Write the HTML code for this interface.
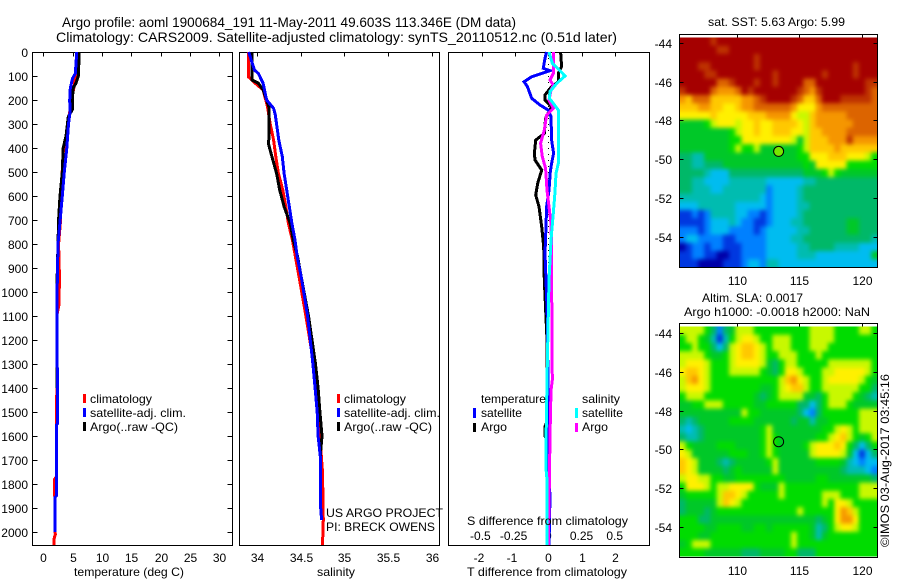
<!DOCTYPE html>
<html>
<head>
<meta charset="utf-8">
<title>Argo profile</title>
<style>
html,body{margin:0;padding:0;background:#fff;}
svg{display:block;}
text{font-family:"Liberation Sans",sans-serif;fill:#000;font-size:12px;}
</style>
</head>
<body>
<svg id="chart" xmlns="http://www.w3.org/2000/svg" width="900" height="580" viewBox="0 0 900 580">
<defs>
<filter id="mapBlur" filterUnits="userSpaceOnUse" x="650" y="0" width="250" height="580" color-interpolation-filters="sRGB"><feGaussianBlur stdDeviation="2"/></filter>
<clipPath id="sstClip"><rect x="679.5" y="37.5" width="198" height="230"/></clipPath>
<clipPath id="slaClip"><rect x="679.5" y="326.5" width="198" height="230"/></clipPath>
</defs>
<rect x="0" y="0" width="900" height="580" fill="#fff"/>
<g id="marks"></g>
<text x="62" y="27" style="font-size:14px" textLength="454" lengthAdjust="spacingAndGlyphs">Argo profile: aoml 1900684_191 11-May-2011 49.603S 113.346E (DM data)</text>
<text x="56" y="42" style="font-size:14px" textLength="561" lengthAdjust="spacingAndGlyphs">Climatology: CARS2009. Satellite-adjusted climatology: synTS_20110512.nc (0.51d later)</text>
<text x="74" y="576" textLength="110" lengthAdjust="spacingAndGlyphs">temperature (deg C)</text>
<text x="317" y="576" textLength="38" lengthAdjust="spacingAndGlyphs">salinity</text>
<text x="467" y="576" textLength="160" lengthAdjust="spacingAndGlyphs">T difference from climatology</text>
<text x="467" y="525" textLength="161" lengthAdjust="spacingAndGlyphs">S difference from climatology</text>

<rect x="83" y="394" width="3" height="9" fill="#f00"/>
<rect x="83" y="408" width="3" height="9" fill="#00f"/>
<rect x="83" y="422" width="3" height="9" fill="#000"/>
<text x="90" y="403" textLength="62" lengthAdjust="spacingAndGlyphs">climatology</text>
<text x="90" y="417" textLength="96" lengthAdjust="spacingAndGlyphs">satellite-adj. clim.</text>
<text x="90" y="431" textLength="88" lengthAdjust="spacingAndGlyphs">Argo(..raw -QC)</text>

<rect x="337" y="394" width="3" height="9" fill="#f00"/>
<rect x="337" y="408" width="3" height="9" fill="#00f"/>
<rect x="337" y="422" width="3" height="9" fill="#000"/>
<text x="344" y="403" textLength="62" lengthAdjust="spacingAndGlyphs">climatology</text>
<text x="344" y="417" textLength="96" lengthAdjust="spacingAndGlyphs">satellite-adj. clim.</text>
<text x="344" y="431" textLength="88" lengthAdjust="spacingAndGlyphs">Argo(..raw -QC)</text>
<text x="326" y="517" textLength="117" lengthAdjust="spacingAndGlyphs">US ARGO PROJECT</text>
<text x="326" y="531" textLength="109" lengthAdjust="spacingAndGlyphs">PI: BRECK OWENS</text>

<text x="481" y="403" textLength="65" lengthAdjust="spacingAndGlyphs">temperature</text>
<text x="582" y="403" textLength="38" lengthAdjust="spacingAndGlyphs">salinity</text>
<rect x="473" y="408" width="3" height="10" fill="#00f"/>
<rect x="473" y="423" width="3" height="9" fill="#000"/>
<rect x="575" y="408" width="3" height="10" fill="#0ff"/>
<rect x="575" y="423" width="3" height="9" fill="#f0f"/>
<text x="481" y="417" textLength="41" lengthAdjust="spacingAndGlyphs">satellite</text>
<text x="481" y="431" textLength="26" lengthAdjust="spacingAndGlyphs">Argo</text>
<text x="582" y="417" textLength="41" lengthAdjust="spacingAndGlyphs">satellite</text>
<text x="582" y="431" textLength="26" lengthAdjust="spacingAndGlyphs">Argo</text>

<text x="708" y="26" textLength="137" lengthAdjust="spacingAndGlyphs">sat. SST: 5.63 Argo: 5.99</text>
<text x="702" y="302" textLength="101" lengthAdjust="spacingAndGlyphs">Altim. SLA: 0.0017</text>
<text x="684" y="316" textLength="186" lengthAdjust="spacingAndGlyphs">Argo h1000: -0.0018 h2000: NaN</text>
<text transform="translate(889,547) rotate(-90)" textLength="173" lengthAdjust="spacingAndGlyphs">©IMOS 03-Aug-2017 03:45:16</text>
</svg>
<script>
// ---------- axis tick labels ----------
const depthTicks = [0,100,200,300,400,500,600,700,800,900,1000,1100,1200,1300,1400,1500,1600,1700,1800,1900,2000];
const tempTicks = [0,5,10,15,20,25,30];
const salTicks = [34,34.5,35,35.5,36];
const salTickLabels = ['34','34.5','35','35.5','36'];
const tDiffTicks = [-2,-1,0,1,2];
const sDiffTicks = [-0.5,-0.25,0,0.25,0.5];
const sDiffTickLabels = ['-0.5','-0.25','0','0.25','0.5'];
const latTicks = [-44,-46,-48,-50,-52,-54];
const lonTicks = [110,115,120];

// ---------- temperature profiles ----------
const tempClimDepth = [0,100,150,200,300,400,420,600,700,800,930,1050,1100,1400,1770,1780,1850,1860,2000,2010,2030,2054];
const tempClimValue = [5.7,5.5,5.2,4.8,4.2,3.6,3.4,3.0,2.95,2.6,2.75,2.7,2.3,2.3,2.22,1.95,1.95,2.0,2.03,2.05,1.82,1.82];
const tempSatDepth = [0,50,90,110,150,200,250,300,400,500,600,800,1000,1400,1550,1555,1850,1855,2000];
const tempSatValue = [5.7,5.57,5.45,5.0,4.6,4.5,4.55,4.3,4.0,3.58,3.24,2.5,2.35,2.39,2.39,2.22,2.22,2.0,2.0];
const tempArgoDepth = [0,100,130,150,200,240,270,350,400,500,600,700,800,1000,1400];
const tempArgoValue = [6.13,5.97,5.57,5.1,4.95,4.95,4.26,3.87,3.4,3.24,2.85,2.6,2.5,2.3,2.3];

// ---------- salinity profiles ----------
const salClimDepth = [0,103,124,158,228,297,367,436,506,575,644,714,783,853,943,1100,1300,1500,1750,1950,2054];
const salClimValue = [33.905,33.9,33.96,34.07,34.12,34.15,34.19,34.215,34.245,34.295,34.33,34.36,34.405,34.44,34.485,34.56,34.65,34.7,34.75,34.76,34.75];
const salSatDepth = [0,75,89,130,200,235,262,367,436,506,575,644,714,783,853,943,1100,1300,1400,1500,1600,1700,1900,1950];
const salSatValue = [33.905,33.97,34.015,34.07,34.11,34.19,34.21,34.25,34.29,34.31,34.34,34.37,34.4,34.435,34.46,34.51,34.58,34.64,34.665,34.69,34.7,34.73,34.73,34.74];
const salArgoDepth = [0,117,130,158,200,235,311,353,380,422,506,575,644,714,783,853,943,1100,1200,1300,1400,1500,1600,1660,1750];
const salArgoValue = [33.94,33.945,34.015,34.07,34.11,34.14,34.14,34.14,34.13,34.16,34.225,34.26,34.31,34.38,34.415,34.465,34.51,34.59,34.63,34.67,34.7,34.72,34.745,34.73,34.73];

// ---------- differences from climatology ----------
const tDiffSatDepth = [0,26,68,78,85,103,124,144,193,221,242,269,367,422,464,499,575,644,728,839,950,1100,1783,1850,2054];
const tDiffSatValue = [-0.05,-0.1,-0.15,0.05,-0.1,-0.5,-0.73,-0.63,-0.5,-0.25,0,0.08,0.1,0.16,0.1,0.06,0.02,-0.05,-0.07,-0.1,-0.07,-0.03,0.02,0.05,0.02];
const tDiffArgoDepth = [0,61,89,124,144,179,200,228,276,339,367,422,450,492,547,596,644,728,811,950,1200,1540,1560,1600,1620,2054];
const tDiffArgoValue = [0.37,0.4,0.3,0.3,0.1,-0.1,-0.1,0.1,-0.08,-0.12,-0.38,-0.42,-0.4,-0.2,-0.32,-0.38,-0.28,-0.2,-0.14,-0.12,-0.04,-0.04,-0.1,-0.1,-0.03,0];
const sDiffArgoDepth = [0,89,117,138,158,200,235,263,325,381,436,485,575,644,714,825,950,1367,1410,1600,1783,2054];
const sDiffArgoValue = [0.038,0.038,0.013,0.038,0.02,0.005,0.038,-0.013,-0.03,-0.058,-0.045,-0.02,-0.01,0.005,0.02,0.025,0.025,0.03,0.02,0.013,0.008,0];
const sDiffSatDepth = [0,47,78,100,131,165,193,214,242,297,367,464,506,589,672,783,867,950,1367,1660,1730,1783,2054];
const sDiffSatValue = [0.005,0.03,0.088,0.126,0.063,0.013,0.008,0.038,0.075,0.075,0.075,0.075,0.058,0.05,0.038,0.02,0.013,0.005,-0.01,-0.018,-0.018,-0.01,-0.01];

// ---------- float position ----------
const floatLon = [113.346];
const floatLat = [-49.603];

// ---------- map level palette (low to high) ----------
const levelColors = ['#0000a8','#0038e0','#0080ff','#00bcf0','#00bcb0','#00b868','#00c828','#00dc00','#c8f800','#fff000','#ffc800','#f59600','#dc6400','#be3200','#a50000'];

// ---------- satellite SST map levels, north to south ----------
const sstRows = [
[14,14,14,14,14,13,14,14,14,14,14,14,14,14,14,14,14,14,14,14,14,14,14,14,14,14,14,14,14,14,14,14],
[14,14,14,14,14,14,13,13,14,14,14,14,14,14,14,14,14,14,14,14,14,14,14,14,14,14,14,14,14,14,14,14],
[14,14,14,14,14,14,14,14,14,14,14,14,13,14,14,14,14,14,14,14,14,14,14,14,14,14,14,14,14,14,14,14],
[14,14,14,13,13,14,14,14,14,14,14,14,13,14,14,14,14,14,14,14,14,14,14,14,14,14,14,14,13,14,14,14],
[14,14,14,14,13,13,14,14,14,14,14,14,14,14,14,13,14,14,14,14,14,14,14,13,14,14,14,14,13,14,14,14],
[14,14,14,14,14,14,12,12,13,14,14,14,13,14,14,13,14,14,14,14,12,12,14,14,14,14,14,14,14,14,13,13],
[13,14,14,14,14,12,11,11,11,12,14,13,14,14,14,14,14,14,14,13,12,11,13,14,14,14,14,14,14,14,13,12],
[11,10,12,12,12,10,10,10,10,10,11,11,12,13,14,14,14,14,13,12,10,10,12,14,14,14,13,13,13,13,13,12],
[10,10,10,11,11,10,10,9,9,10,11,11,12,12,12,12,12,12,11,9,9,9,11,12,12,12,12,12,12,12,12,12],
[9,9,9,9,9,10,9,9,9,9,9,10,10,10,11,11,11,11,9,8,8,10,11,11,11,11,11,12,12,12,12,12],
[6,6,6,6,7,8,9,9,9,8,9,9,10,9,9,10,10,10,10,9,8,10,11,11,11,11,11,11,12,12,12,12],
[6,6,6,6,6,6,6,6,7,8,9,9,10,9,9,10,10,10,9,9,8,10,10,11,11,11,11,12,12,12,12,12],
[6,6,6,6,6,6,6,6,7,7,9,9,9,9,9,9,9,9,8,6,8,10,10,10,11,11,11,13,11,11,11,11],
[6,6,6,6,6,6,6,6,7,8,7,7,8,6,6,6,6,6,6,7,8,10,10,10,10,11,10,10,10,10,10,10],
[5,5,4,4,6,6,6,6,6,6,6,6,6,6,6,6,6,6,6,7,7,9,9,9,10,10,10,9,9,9,8,7],
[5,5,4,4,5,5,5,6,6,6,6,6,6,6,6,6,6,6,6,6,7,6,9,9,9,9,9,7,7,7,7,7],
[5,5,5,5,4,3,3,3,5,5,5,5,5,5,5,5,5,5,5,5,6,6,6,7,8,7,6,6,6,6,6,6],
[5,5,4,4,3,3,3,3,4,4,4,4,4,4,3,3,3,3,3,3,4,4,5,5,5,5,5,5,5,5,5,5],
[5,5,4,4,4,3,3,4,4,4,4,4,4,4,2,3,3,3,3,4,5,5,5,5,5,5,5,5,5,5,5,5],
[4,4,4,4,4,4,4,4,4,4,4,4,4,3,2,3,3,3,3,4,5,5,5,5,5,5,5,5,5,5,5,5],
[3,3,3,4,4,4,4,4,4,3,3,3,3,3,2,3,3,3,3,4,4,5,5,5,5,5,5,5,5,5,5,5],
[1,1,2,1,2,4,4,4,4,3,3,2,2,1,2,3,3,3,3,4,5,5,5,5,5,5,5,5,5,5,5,5],
[1,1,1,1,2,3,3,3,4,3,2,2,1,1,2,3,3,3,4,4,5,5,5,5,5,5,5,6,6,5,5,5],
[2,2,2,1,2,3,3,3,2,2,2,2,1,2,3,3,3,3,3,4,4,5,5,5,5,5,5,6,6,5,5,5],
[2,3,3,2,2,2,2,1,1,2,2,2,2,2,3,3,3,3,4,4,5,5,5,5,5,5,5,5,5,5,5,4],
[0,1,2,2,1,2,2,1,1,1,2,2,2,2,3,3,3,3,3,4,4,5,5,5,5,4,4,4,4,3,3,3],
[1,1,2,2,1,1,0,0,1,1,2,2,2,2,3,3,3,3,3,4,4,4,3,3,3,3,3,3,3,3,3,6],
[1,1,1,0,0,0,0,1,1,1,2,3,3,2,4,4,3,3,3,3,3,3,3,3,3,3,3,3,3,3,3,3]
];

// ---------- altimeter SLA map levels, north to south ----------
const slaRows = [
[8,8,8,8,7,5,2,5,6,8,8,8,7,7,7,7,7,7,7,7,7,8,8,8,8,7,7,7,7,8,8,7],
[7,8,8,7,6,4,1,4,7,8,9,9,8,7,7,8,8,8,7,7,7,8,8,8,8,7,7,7,7,7,7,7],
[7,7,8,7,7,5,3,5,8,9,10,10,9,8,7,8,8,8,7,7,7,8,8,8,7,7,7,7,7,7,7,7],
[8,8,8,8,7,6,6,7,8,9,10,10,9,8,7,7,8,8,8,7,7,7,8,7,7,7,7,7,7,7,7,7],
[8,9,9,9,8,7,7,7,8,9,9,9,9,8,6,5,7,8,8,7,7,7,7,7,8,8,8,8,8,8,8,7],
[9,10,10,9,8,7,7,7,8,8,8,8,8,7,6,5,7,9,9,8,7,7,7,8,8,9,9,9,9,9,8,7],
[8,10,11,9,8,7,7,7,7,7,7,7,7,7,7,7,8,10,11,9,8,7,7,8,9,9,9,9,9,8,7,6],
[8,9,9,9,8,7,7,7,7,7,7,7,7,6,6,7,8,9,10,10,8,7,7,8,8,8,8,8,8,7,7,5],
[7,8,8,8,7,7,7,7,7,7,7,7,6,5,6,7,8,8,8,8,6,6,5,7,8,8,8,8,7,6,5,4],
[6,6,7,7,8,8,8,7,7,7,7,7,6,6,7,7,7,7,7,5,5,3,5,7,8,8,8,7,6,6,6,6],
[6,6,6,6,6,6,6,6,6,6,8,7,7,6,6,6,6,6,6,5,3,2,5,7,7,7,7,7,7,8,8,8],
[5,4,5,6,6,6,6,6,7,7,7,7,6,6,6,6,6,6,5,6,6,4,6,6,7,7,7,7,7,8,8,8],
[4,3,4,5,6,6,6,6,6,6,6,6,6,7,8,6,6,6,6,6,6,6,6,7,7,8,9,8,7,8,8,8],
[5,4,4,5,6,6,6,6,6,6,6,6,6,7,8,7,6,6,6,6,6,6,7,7,8,9,10,8,7,6,7,8],
[8,7,6,6,6,6,7,7,7,6,6,6,6,7,8,7,6,6,6,6,7,8,9,9,9,10,9,7,5,3,5,7],
[9,8,6,6,6,6,6,6,7,7,7,6,6,7,8,7,6,6,6,6,6,8,9,9,9,9,8,6,3,1,3,5],
[10,9,8,6,6,6,5,4,5,6,6,6,6,6,7,8,6,6,6,6,6,6,7,7,7,7,6,4,3,2,3,3],
[10,9,8,6,6,6,6,5,6,7,6,6,6,6,6,8,6,6,6,6,6,6,6,6,6,6,5,4,4,4,3,2],
[8,9,9,8,8,7,7,6,6,7,7,7,7,7,7,7,7,6,6,6,6,6,7,7,6,6,6,6,6,6,6,5],
[7,9,9,9,8,7,8,8,9,9,9,9,7,6,6,6,8,7,7,7,7,7,7,7,7,7,7,7,7,8,8,8],
[6,7,7,7,7,7,8,10,10,9,8,7,7,7,7,7,8,7,7,7,7,7,7,8,8,8,7,7,7,8,8,8],
[5,6,6,6,6,6,8,10,9,8,7,7,7,7,7,7,7,7,7,7,7,7,7,8,7,9,9,8,7,7,7,7],
[5,6,6,6,5,6,7,7,7,7,7,7,7,7,7,7,7,7,7,8,7,7,7,7,7,9,11,10,8,7,7,7],
[7,7,7,5,5,6,6,6,6,6,6,6,6,6,6,6,6,6,6,6,6,6,5,6,7,9,11,11,9,7,7,7],
[7,7,7,7,6,6,7,7,7,7,6,6,7,7,6,7,7,7,7,7,7,6,4,5,7,8,9,9,8,7,7,7],
[7,7,7,6,6,7,7,7,7,7,7,7,7,7,7,7,7,7,8,7,7,6,4,6,7,7,7,7,7,7,7,7],
[6,7,8,8,8,7,7,7,7,7,7,7,7,7,7,7,7,7,8,7,7,7,7,7,7,7,7,7,7,7,7,7],
[7,7,7,7,6,6,6,6,6,6,5,5,5,6,6,6,6,7,7,5,5,5,7,7,7,7,7,7,7,7,7,7]
];

// ---------- axis functions ----------
const SVGNS = 'http://www.w3.org/2000/svg';
const root = document.getElementById('marks');
function yDepth(d){ return 52 + d * 0.24; }
function xTemp(t){ return 43.3 + t * 5.867; }
function xSal(s){ return 257 + (s - 34) * 87.3; }
function xTDiff(t){ return 548.3 + t * 33.2; }
function xSDiff(s){ return 548.3 + s * 132.8; }
function xLon(lon){ return 736.7 + (lon - 110) * 12.53; }
function yLatTop(lat){ return 42.7 + (-44 - lat) * 19.4; }
function yLatBottom(lat){ return 332.7 + (-44 - lat) * 19.46; }

function make(tag, attrs, parent){
  const el = document.createElementNS(SVGNS, tag);
  for (const k in attrs) el.setAttribute(k, attrs[k]);
  (parent || root).appendChild(el);
  return el;
}
function addTick(x1, y1, x2, y2, name){
  const el = make('line', {x1:x1, y1:y1, x2:x2, y2:y2, stroke:'#000', 'stroke-width':1, 'shape-rendering':'crispEdges'});
  
  
}
function addLabel(x, y, str, anchor, name){
  const el = make('text', {x:x, y:y, 'text-anchor':anchor});
  el.textContent = str;
  
  
}
function addFrame(x, y, w, h, name){
  const el = make('rect', {x:x, y:y, width:w, height:h, fill:'none', stroke:'#000', 'stroke-width':1, 'shape-rendering':'crispEdges'});
  
  
}
function addProfile(depths, values, xFn, color, name){
  const pts = depths.map(function(d, i){ return xFn(values[i]).toFixed(1) + ',' + yDepth(d).toFixed(1); }).join(' ');
  const el = make('polyline', {points:pts, fill:'none', stroke:color, 'stroke-width':3, 'stroke-linejoin':'miter', 'shape-rendering':'crispEdges'});
  
  
}
function addMap(rows, clipId, top, bottom, name){
  const left = 679.5, right = 877.5, bleed = 10;
  const clip = make('g', {'clip-path':'url(#' + clipId + ')'});
  
  
  const blur = make('g', {filter:'url(#mapBlur)'}, clip);
  
  
  const cellH = (bottom - top) / rows.length;
  rows.forEach(function(row, r){
    const cellW = (right - left) / row.length;
    row.forEach(function(level, c){
      // edge cells bleed past the clip so the smoothing does not fade at the border
      const x0 = left + c * cellW - (c === 0 ? bleed : 0);
      const x1 = left + (c + 1) * cellW + (c === row.length - 1 ? bleed : 0.6);
      const y0 = top + r * cellH - (r === 0 ? bleed : 0);
      const y1 = top + (r + 1) * cellH + (r === rows.length - 1 ? bleed : 0.6);
      const el = make('rect', {x:x0.toFixed(2), y:y0.toFixed(2), width:(x1 - x0).toFixed(2), height:(y1 - y0).toFixed(2), fill:levelColors[level]}, blur);
      
      
    });
  });
}

// ---------- depth panels ----------
const panels = [
  {l:32.5, r:232.5, name:'temperature-panel'},
  {l:239.5, r:439.5, name:'salinity-panel'},
  {l:448.5, r:649.5, name:'difference-panel'}
];
panels.forEach(function(p){
  addFrame(p.l, 52.5, p.r - p.l, 493, p.name + '-frame');
});
depthTicks.forEach(function(d){
  const y = Math.round(yDepth(d)) + 0.5;
  addTick(32.5, y, 37.5, y, 'depth-tick-left');
  addTick(227.5, y, 232.5, y, 'depth-tick-right');
  addLabel(28, y + 4.5, String(d), 'end', 'depth-tick-label');
});
tempTicks.forEach(function(t){
  const x = Math.round(xTemp(t)) + 0.5;
  addTick(x, 52.5, x, 56.5, 'temperature-tick');
  addLabel(x, 562, String(t), 'middle', 'temperature-tick-label');
});
salTicks.forEach(function(s, i){
  const x = Math.round(xSal(s)) + 0.5;
  addTick(x, 52.5, x, 56.5, 'salinity-tick');
  addLabel(x, 562, salTickLabels[i], 'middle', 'salinity-tick-label');
});
tDiffTicks.forEach(function(t){
  const x = Math.round(xTDiff(t)) + 0.5;
  addTick(x, 52.5, x, 56.5, 'difference-tick');
  addLabel(t < 0 ? x - 3.5 : x, 562, String(t), 'middle', 'difference-tick-label');
});
sDiffTicks.forEach(function(s, i){
  addLabel(s < 0 ? xSDiff(s) - 1.5 : xSDiff(s), 540, sDiffTickLabels[i], 'middle', 's-difference-tick-label');
});

// temperature series
addProfile(tempClimDepth, tempClimValue, xTemp, '#f00', 'temperature-climatology-line');
addProfile(tempArgoDepth, tempArgoValue, xTemp, '#000', 'temperature-argo-line');
addProfile(tempSatDepth, tempSatValue, xTemp, '#00f', 'temperature-satellite-line');

// salinity series
addProfile(salClimDepth, salClimValue, xSal, '#f00', 'salinity-climatology-line');
addProfile(salArgoDepth, salArgoValue, xSal, '#000', 'salinity-argo-line');
addProfile(salSatDepth, salSatValue, xSal, '#00f', 'salinity-satellite-line');

// difference series
const zeroLine = make('line', {x1:xTDiff(0), y1:yDepth(0), x2:xTDiff(0), y2:yDepth(1000), stroke:'#000', 'stroke-width':1, 'stroke-dasharray':'1 5', 'shape-rendering':'crispEdges'});


addProfile(tDiffArgoDepth, tDiffArgoValue, xTDiff, '#000', 't-difference-argo-line');
addProfile(tDiffSatDepth, tDiffSatValue, xTDiff, '#00f', 't-difference-satellite-line');
addProfile(sDiffArgoDepth, sDiffArgoValue, xSDiff, '#f0f', 's-difference-argo-line');
addProfile(sDiffSatDepth, sDiffSatValue, xSDiff, '#0ff', 's-difference-satellite-line');

// ---------- maps ----------
addMap(sstRows, 'sstClip', 37.5, 267.5, 'sst-map');
addMap(slaRows, 'slaClip', 326.5, 556.5, 'sla-map');
addFrame(679.5, 34.5, 198, 233, 'sst-map-frame');
addFrame(679.5, 323.5, 198, 234, 'sla-map-frame');
latTicks.forEach(function(lat){
  const y1 = Math.round(yLatTop(lat)) + 0.5;
  addTick(679.5, y1, 683.5, y1, 'sst-lat-tick-left');
  addTick(873.5, y1, 877.5, y1, 'sst-lat-tick-right');
  addLabel(672, y1 + 4.5, String(lat), 'end', 'sst-lat-tick-label');
  const y2 = Math.round(yLatBottom(lat)) + 0.5;
  addTick(679.5, y2, 683.5, y2, 'sla-lat-tick-left');
  addTick(873.5, y2, 877.5, y2, 'sla-lat-tick-right');
  addLabel(672, y2 + 4.5, String(lat), 'end', 'sla-lat-tick-label');
});
lonTicks.forEach(function(lon){
  const x = Math.round(xLon(lon)) + 0.5;
  addTick(x, 34.5, x, 37.5, 'sst-lon-tick');
  addLabel(x, 285, String(lon), 'middle', 'sst-lon-tick-label');
  addTick(x, 323.5, x, 326.5, 'sla-lon-tick');
  addLabel(x, 575, String(lon), 'middle', 'sla-lon-tick-label');
});
const sstMarker = make('circle', {cx:xLon(floatLon[0]), cy:yLatTop(floatLat[0]), r:5, fill:'#78e600', stroke:'#000', 'stroke-width':1});


const slaMarker = make('circle', {cx:xLon(floatLon[0]), cy:yLatBottom(floatLat[0]), r:5, fill:'none', stroke:'#000', 'stroke-width':1});


</script>
</body>
</html>
